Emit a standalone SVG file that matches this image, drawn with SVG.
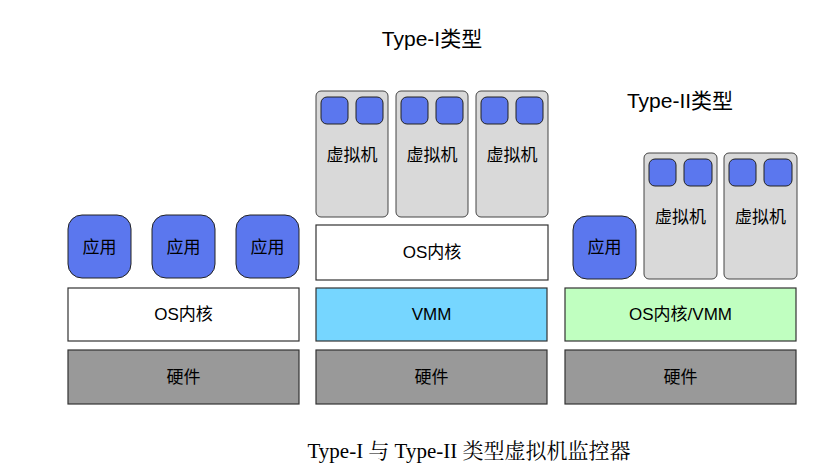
<svg xmlns="http://www.w3.org/2000/svg" width="820" height="475" viewBox="0 0 820 475">
<style>
.t{font-family:"Liberation Sans","Noto Sans CJK SC",sans-serif;font-size:17px;fill:#000;text-anchor:middle;dominant-baseline:central}
.h{font-family:"Liberation Sans","Noto Sans CJK SC",sans-serif;font-size:21px;fill:#000;text-anchor:middle}
.cap{font-family:"Liberation Serif","Noto Serif CJK SC","Noto Sans CJK SC",serif;font-size:21px;fill:#000;text-anchor:middle}
.box{stroke:#333;stroke-width:1.2}
.app{fill:#5b77ee;stroke:#222;stroke-width:1}
.vm{fill:#d9d9d9;stroke:#444;stroke-width:1}
.hw{fill:#999}
.wt{fill:#fff}
</style>
<rect width="820" height="475" fill="#fff"/>
<text class="h" x="432" y="46">Type-I类型</text>
<text class="h" x="680" y="108">Type-II类型</text>
<g id="left">
<g id="l-app1"><rect class="app" x="68" y="215" width="63" height="63" rx="14"/><text class="t" x="99.5" y="247">应用</text></g>
<g id="l-app2"><rect class="app" x="152" y="215" width="63" height="63" rx="14"/><text class="t" x="183.5" y="247">应用</text></g>
<g id="l-app3"><rect class="app" x="236" y="215" width="63" height="63" rx="14"/><text class="t" x="267.5" y="247">应用</text></g>
<g id="l-os"><rect class="box wt" x="68" y="288" width="231" height="53"/><text class="t" x="183.5" y="314.5">OS内核</text></g>
<g id="l-hw"><rect class="box hw" x="68" y="350" width="231" height="54"/><text class="t" x="183.5" y="377">硬件</text></g>
</g>
<g id="mid">
<g id="m-vm1"><rect class="vm" x="316" y="91" width="72" height="126" rx="5"/><rect class="app" x="321" y="97" width="27" height="27" rx="6"/><rect class="app" x="356" y="97" width="27" height="27" rx="6"/><text class="t" x="352" y="155">虚拟机</text></g>
<g id="m-vm2"><rect class="vm" x="396" y="91" width="72" height="126" rx="5"/><rect class="app" x="401" y="97" width="27" height="27" rx="6"/><rect class="app" x="436" y="97" width="27" height="27" rx="6"/><text class="t" x="432" y="155">虚拟机</text></g>
<g id="m-vm3"><rect class="vm" x="476" y="91" width="72" height="126" rx="5"/><rect class="app" x="481" y="97" width="27" height="27" rx="6"/><rect class="app" x="516" y="97" width="27" height="27" rx="6"/><text class="t" x="512" y="155">虚拟机</text></g>
<g id="m-os"><rect class="box wt" x="316" y="225" width="232" height="55"/><text class="t" x="432" y="252.5">OS内核</text></g>
<g id="m-vmm"><rect class="box" fill="#76d6ff" x="316" y="288" width="231" height="53"/><text class="t" x="431.5" y="314.5">VMM</text></g>
<g id="m-hw"><rect class="box hw" x="316" y="350" width="231" height="54"/><text class="t" x="431.5" y="377">硬件</text></g>
</g>
<g id="right">
<g id="r-app"><rect class="app" x="573" y="216" width="63" height="63" rx="14"/><text class="t" x="604.5" y="247.5">应用</text></g>
<g id="r-vm1"><rect class="vm" x="644" y="153" width="73" height="126" rx="5"/><rect class="app" x="649" y="159" width="27" height="27" rx="6"/><rect class="app" x="684" y="159" width="28" height="27" rx="6"/><text class="t" x="680.5" y="217">虚拟机</text></g>
<g id="r-vm2"><rect class="vm" x="724" y="153" width="73" height="126" rx="5"/><rect class="app" x="729" y="159" width="27" height="27" rx="6"/><rect class="app" x="764" y="159" width="28" height="27" rx="6"/><text class="t" x="760.5" y="217">虚拟机</text></g>
<g id="r-os"><rect class="box" fill="#c0ffc0" x="565" y="288" width="231" height="53"/><text class="t" x="680.5" y="314.5">OS内核/VMM</text></g>
<g id="r-hw"><rect class="box hw" x="565" y="350" width="231" height="54"/><text class="t" x="680.5" y="377">硬件</text></g>
</g>
<g id="connectors"></g>
<text class="cap" x="469" y="458">Type-I 与 Type-II 类型虚拟机监控器</text>
</svg>
